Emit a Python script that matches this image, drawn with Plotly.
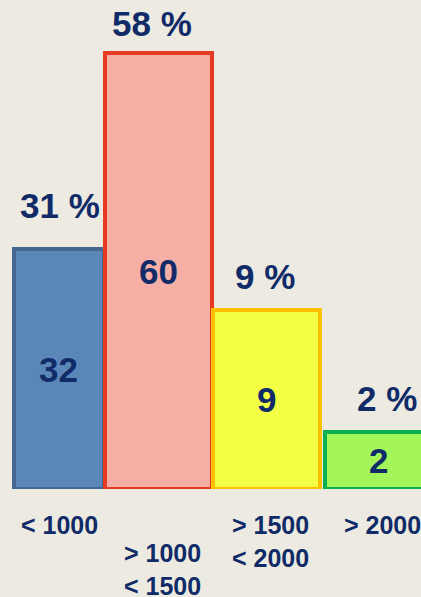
import plotly.graph_objects as go

# Data
ranges = ["< 1000", "> 1000<br>< 1500", "> 1500<br>< 2000", "> 2000"]
counts = [32, 60, 9, 2]
shares = [31, 58, 9, 2]
bar_heights = [24.0, 43.6, 17.9, 5.7]  # drawn heights (not proportional to counts)

# Styles
fills = ["#5B87B8", "#F5AFA5", "#F2FF45", "#A3F55A"]
borders = ["#45668E", "#E63B22", "#FFC000", "#0DB050"]
widths = [0.84, 1.0, 1.0, 1.0]
offsets = [-0.35, -0.5, -0.49, -0.444]
label_dx = [1, 4, 4, 4]
label_dy = [-20, -48, -20, -20]
pct_dx = [1, -6, -2, 8]
pct_dy = [22, 8, 12, 12]
navy = "#112B68"
bg = "#EDEBE1"
font = "Liberation Sans, Arial, sans-serif"

x = list(range(len(counts)))

fig = go.Figure()
fig.add_trace(go.Bar(
    x=x,
    y=bar_heights,
    width=widths,
    offset=offsets,
    marker=dict(color=fills, line=dict(color=borders, width=4)),
    hoverinfo="skip",
))

annotations = []
for i in x:
    centre = offsets[i] + widths[i] / 2
    # count in the middle of the bar
    annotations.append(dict(
        x=i + centre, y=bar_heights[i] / 2, text="<b>%d</b>" % counts[i],
        showarrow=False, font=dict(size=35, color=navy, family=font),
        xanchor="center", yanchor="middle"))
    # percentage above the bar
    annotations.append(dict(
        x=i + centre, y=bar_heights[i], text="<b>%d %%</b>" % shares[i],
        showarrow=False, font=dict(size=35, color=navy, family=font),
        xanchor="center", yanchor="bottom", xshift=pct_dx[i], yshift=pct_dy[i]))
    # range label below the axis
    annotations.append(dict(
        x=i + centre, y=0, text="<b>%s</b>" % ranges[i],
        showarrow=False, font=dict(size=25, color=navy, family=font),
        xanchor="center", yanchor="top", align="center",
        xshift=label_dx[i], yshift=label_dy[i]))

fig.update_layout(
    width=421, height=597,
    margin=dict(l=0, r=0, t=0, b=108),
    paper_bgcolor=bg, plot_bgcolor=bg,
    showlegend=False,
    bargap=0,
    annotations=annotations,
    xaxis=dict(range=[-0.481, 3.453], visible=False, fixedrange=True),
    yaxis=dict(range=[0, 48.9], visible=False, fixedrange=True),
)

fig.write_html("out.html", config={"displayModeBar": False},
               post_script="document.body.style.margin='0';"
                           "document.body.style.background='%s';" % bg)
